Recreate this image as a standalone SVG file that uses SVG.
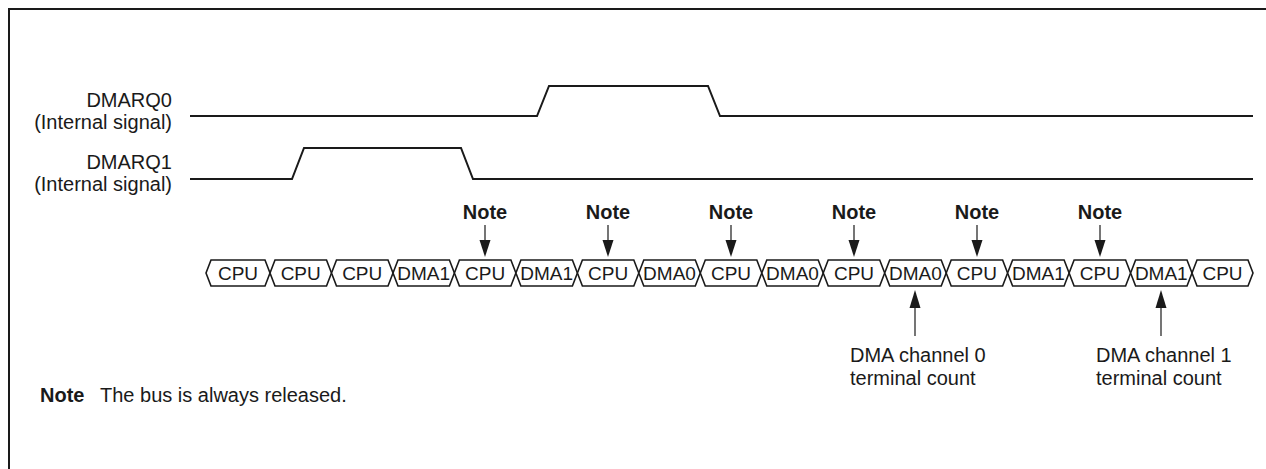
<svg xmlns="http://www.w3.org/2000/svg" width="1266" height="469" viewBox="0 0 1266 469">
<defs>
<style>
text{font-family:"Liberation Sans",Arial,sans-serif;fill:#1a1a1a}
.lbl{font-size:20px}
.bus{font-size:19px;text-anchor:middle}
.note{font-size:20px;font-weight:bold;text-anchor:middle}
.sig{fill:none;stroke:#1a1a1a;stroke-width:2}
.seg{fill:#fff;stroke:#1a1a1a;stroke-width:1.6;stroke-linejoin:miter}
.stem{stroke:#1a1a1a;stroke-width:1.2}
.head{fill:#1a1a1a}
</style>
</defs>
<rect width="1266" height="469" fill="#fff"/>
<path d="M9,469 V9 H1266" fill="none" stroke="#1a1a1a" stroke-width="2"/>

<g id="dmarq0">
<text class="lbl" x="172" y="107" text-anchor="end">DMARQ0</text>
<text class="lbl" x="172" y="129" text-anchor="end">(Internal signal)</text>
<path class="sig" d="M190,116 H537 L549,86 H708 L720,116 H1253"/>
</g>
<g id="dmarq1">
<text class="lbl" x="172" y="169" text-anchor="end">DMARQ1</text>
<text class="lbl" x="172" y="191" text-anchor="end">(Internal signal)</text>
<path class="sig" d="M190,179 H292 L304,148 H461 L473,179 H1253"/>
</g>

<g id="bus">
<polygon class="seg" points="206,273 211,260 265,260 270,273 265,286 211,286"/><text class="bus" x="238" y="280">CPU</text>
<polygon class="seg" points="270,273 275,260 326.5,260 331.5,273 326.5,286 275,286"/><text class="bus" x="300.7" y="280">CPU</text>
<polygon class="seg" points="331.5,273 336.5,260 388,260 393,273 388,286 336.5,286"/><text class="bus" x="362.2" y="280">CPU</text>
<polygon class="seg" points="393,273 398,260 449.4,260 454.4,273 449.4,286 398,286"/><text class="bus" x="423.7" y="280">DMA1</text>
<polygon class="seg" points="454.4,273 459.4,260 510.9,260 515.9,273 510.9,286 459.4,286"/><text class="bus" x="485.1" y="280">CPU</text>
<polygon class="seg" points="515.9,273 520.9,260 572.4,260 577.4,273 572.4,286 520.9,286"/><text class="bus" x="546.6" y="280">DMA1</text>
<polygon class="seg" points="577.4,273 582.4,260 633.8,260 638.8,273 633.8,286 582.4,286"/><text class="bus" x="608.1" y="280">CPU</text>
<polygon class="seg" points="638.8,273 643.8,260 695.3,260 700.3,273 695.3,286 643.8,286"/><text class="bus" x="669.5" y="280">DMA0</text>
<polygon class="seg" points="700.3,273 705.3,260 756.8,260 761.8,273 756.8,286 705.3,286"/><text class="bus" x="731" y="280">CPU</text>
<polygon class="seg" points="761.8,273 766.8,260 818.2,260 823.2,273 818.2,286 766.8,286"/><text class="bus" x="792.5" y="280">DMA0</text>
<polygon class="seg" points="823.2,273 828.2,260 879.7,260 884.7,273 879.7,286 828.2,286"/><text class="bus" x="854" y="280">CPU</text>
<polygon class="seg" points="884.7,273 889.7,260 941.2,260 946.2,273 941.2,286 889.7,286"/><text class="bus" x="915.4" y="280">DMA0</text>
<polygon class="seg" points="946.2,273 951.2,260 1002.6,260 1007.6,273 1002.6,286 951.2,286"/><text class="bus" x="976.9" y="280">CPU</text>
<polygon class="seg" points="1007.6,273 1012.6,260 1064.1,260 1069.1,273 1064.1,286 1012.6,286"/><text class="bus" x="1038.4" y="280">DMA1</text>
<polygon class="seg" points="1069.1,273 1074.1,260 1125.6,260 1130.6,273 1125.6,286 1074.1,286"/><text class="bus" x="1099.9" y="280">CPU</text>
<polygon class="seg" points="1130.6,273 1135.6,260 1187,260 1192,273 1187,286 1135.6,286"/><text class="bus" x="1161.3" y="280">DMA1</text>
<polygon class="seg" points="1192,273 1197,260 1248,260 1253,273 1248,286 1197,286"/><text class="bus" x="1222.5" y="280">CPU</text>
</g>

<g id="notes">
<text class="note" x="485" y="219">Note</text>
<text class="note" x="608" y="219">Note</text>
<text class="note" x="731" y="219">Note</text>
<text class="note" x="854" y="219">Note</text>
<text class="note" x="977" y="219">Note</text>
<text class="note" x="1100" y="219">Note</text>
</g>

<g id="connectors">
<line class="stem" x1="485" y1="225" x2="485" y2="241"/><polygon class="head" points="479.5,240 490.5,240 485,257"/>
<line class="stem" x1="608" y1="225" x2="608" y2="241"/><polygon class="head" points="602.5,240 613.5,240 608,257"/>
<line class="stem" x1="731" y1="225" x2="731" y2="241"/><polygon class="head" points="725.5,240 736.5,240 731,257"/>
<line class="stem" x1="854" y1="225" x2="854" y2="241"/><polygon class="head" points="848.5,240 859.5,240 854,257"/>
<line class="stem" x1="977" y1="225" x2="977" y2="241"/><polygon class="head" points="971.5,240 982.5,240 977,257"/>
<line class="stem" x1="1100" y1="225" x2="1100" y2="241"/><polygon class="head" points="1094.5,240 1105.5,240 1100,257"/>
<line class="stem" x1="915" y1="306" x2="915" y2="336"/><polygon class="head" points="909.5,308 920.5,308 915,290"/>
<line class="stem" x1="1161" y1="306" x2="1161" y2="336"/><polygon class="head" points="1155.5,308 1166.5,308 1161,290"/>
</g>

<g id="tc0">
<text class="lbl" x="850" y="362">DMA channel 0</text>
<text class="lbl" x="850" y="385">terminal count</text>
</g>
<g id="tc1">
<text class="lbl" x="1096" y="362">DMA channel 1</text>
<text class="lbl" x="1096" y="385">terminal count</text>
</g>

<g id="footnote">
<text class="lbl" x="40" y="402" font-weight="bold">Note</text>
<text class="lbl" x="100" y="402">The bus is always released.</text>
</g>
</svg>
